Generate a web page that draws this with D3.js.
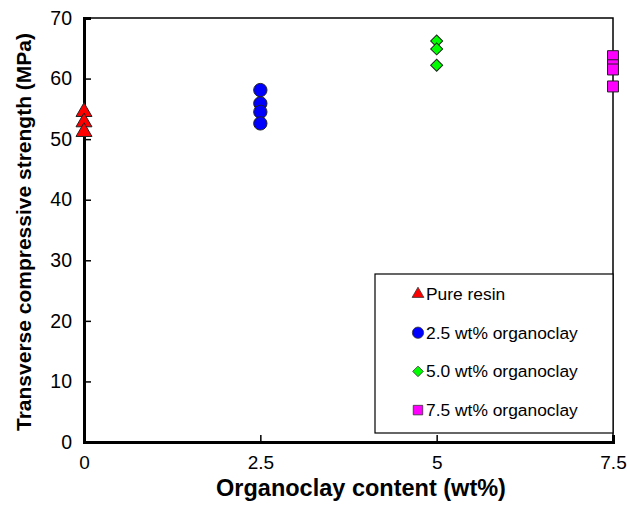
<!DOCTYPE html>
<html>
<head>
<meta charset="utf-8">
<script src="https://cdn.jsdelivr.net/npm/d3@7"></script>
<style>
  body { margin: 0; background: #fff; }
  svg { display: block; }
</style>
</head>
<body>
<div id="chart"></div>
<script>
const FONT = "Liberation Sans, Arial, Helvetica, sans-serif";

// data
const seriesNames = ["Pure resin", "2.5 wt% organoclay", "5.0 wt% organoclay", "7.5 wt% organoclay"];
const seriesX = [0, 2.5, 5, 7.5];
const pureResin = [54.5, 52.8, 51.2];
const clay25 = [58.1, 55.9, 54.5, 52.6];
const clay50 = [66.2, 64.9, 62.2];
const clay75 = [63.7, 62.2, 61.5, 58.7];
const seriesValues = [pureResin, clay25, clay50, clay75];
const seriesColors = ["#ff0000", "#0000ff", "#00ff00", "#ff00ff"];
// diamond = square turned by 45 degrees
const seriesShapes = [d3.symbolTriangle, d3.symbolCircle, d3.symbolSquare, d3.symbolSquare];
const seriesRotate = [0, 0, 45, 0];
const xTicks = [0, 2.5, 5, 7.5];
const xTickLabels = ["0", "2.5", "5", "7.5"];
const yTicks = [0, 10, 20, 30, 40, 50, 60, 70];

const W = 627, H = 510;
const margin = { left: 84, right: 14, top: 18, bottom: 68 };
const plotW = W - margin.left - margin.right;
const plotH = H - margin.top - margin.bottom;

const svg = d3.select("#chart").append("svg")
    .attr("width", W)
    .attr("height", H)
    .attr("font-family", FONT);

const g = svg.append("g").attr("transform", `translate(${margin.left},${margin.top})`);

const x = d3.scaleLinear().domain([0, 7.5]).range([0, plotW]);
const y = d3.scaleLinear().domain([0, 70]).range([plotH, 0]);

// frame
g.append("rect")
    .attr("x", 0).attr("y", 0)
    .attr("width", plotW).attr("height", plotH)
    .attr("fill", "none")
    .attr("stroke", "#000")
    .attr("stroke-width", 1.5);

// x axis
g.append("g")
    .attr("transform", `translate(0,${plotH})`)
    .call(d3.axisBottom(x).tickValues(xTicks).tickSize(-7).tickPadding(14)
        .tickFormat((d, i) => xTickLabels[i]))
    .call(a => {
        a.select(".domain").attr("stroke-width", 3);
        a.selectAll(".tick line").attr("stroke-width", 1.5);
        a.selectAll("text").attr("font-size", "19px").attr("font-family", FONT).attr("fill", "#000");
    });

// y axis
g.append("g")
    .call(d3.axisLeft(y).tickValues(yTicks).tickSize(-7).tickPadding(12))
    .call(a => {
        a.select(".domain").attr("stroke-width", 3);
        a.selectAll(".tick line").attr("stroke-width", 1.5);
        a.selectAll("text").attr("font-size", "19.5px").attr("font-family", FONT).attr("fill", "#000");
    });

// axis titles
svg.append("text")
    .attr("x", 361)
    .attr("y", 496)
    .attr("text-anchor", "middle")
    .attr("font-size", "23.5px")
    .attr("font-weight", "bold")
    .text("Organoclay content (wt%)");

svg.append("text")
    .attr("transform", "translate(31,232) rotate(-90)")
    .attr("text-anchor", "middle")
    .attr("font-size", "21px")
    .attr("font-weight", "bold")
    .text("Transverse compressive strength (MPa)");

// legend
const legX = 375 - margin.left, legY = 274 - margin.top;
const legend = g.append("g").attr("transform", `translate(${legX},${legY})`);
legend.append("rect")
    .attr("width", plotW - legX)
    .attr("height", 159)
    .attr("fill", "#fff")
    .attr("stroke", "#000")
    .attr("stroke-width", 1.2);

const legSizes = [60, 100, 55, 90];
seriesNames.forEach((name, i) => {
    const row = legend.append("g").attr("transform", `translate(43,${20 + i * 38.7})`);
    row.append("path")
        .attr("transform", `rotate(${seriesRotate[i]})`)
        .attr("d", d3.symbol().type(seriesShapes[i]).size(legSizes[i])())
        .attr("fill", seriesColors[i])
        .attr("stroke", "#333")
        .attr("stroke-width", 0.8);
    row.append("text")
        .attr("x", 8)
        .attr("dy", "0.35em")
        .attr("font-size", "17.4px")
        .text(name);
});

// points
const ptSizes = [110, 140, 72, 120];
seriesValues.forEach((vals, i) => {
    g.append("g").selectAll("path")
        .data(vals).enter().append("path")
        .attr("transform", d => `translate(${x(seriesX[i])},${y(d)}) rotate(${seriesRotate[i]})`)
        .attr("d", d3.symbol().type(seriesShapes[i]).size(ptSizes[i])())
        .attr("fill", seriesColors[i])
        .attr("stroke", "#222")
        .attr("stroke-width", 1);
});
</script>
</body>
</html>
